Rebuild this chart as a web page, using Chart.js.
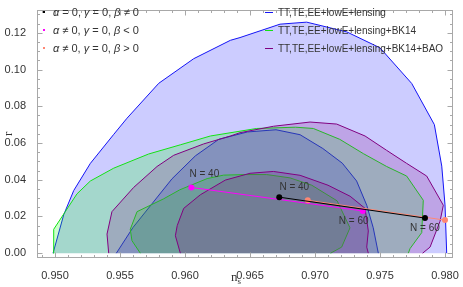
<!DOCTYPE html>
<html><head><meta charset="utf-8">
<script src="https://cdn.jsdelivr.net/npm/chart.js@4/dist/chart.umd.min.js"></script>
<style>html,body{margin:0;padding:0;background:#fff}canvas{display:block}</style>
</head><body><canvas id="c" width="463" height="287"></canvas>
<script>
// ---- axis ticks ----
const xTicks = [0.950, 0.955, 0.960, 0.965, 0.970, 0.975, 0.980];
const xTickLabels = ['0.950', '0.955', '0.960', '0.965', '0.970', '0.975', '0.980'];
const yTicks = [0.00, 0.02, 0.04, 0.06, 0.08, 0.10, 0.12];
const yTickLabels = ['0.00', '0.02', '0.04', '0.06', '0.08', '0.10', '0.12'];

// ---- contour data: [n_s, r] ----
const planck95 = [[0.94985,0],[0.95067,0.0209],[0.95144,0.0341],[0.95272,0.0489],[0.95452,0.0647],[0.95554,0.0735],[0.95798,0.0925],[0.96067,0.1059],[0.96349,0.1159],[0.96423,0.1174],[0.96731,0.1247],[0.96936,0.1258],[0.97244,0.1205],[0.97500,0.1118],[0.97744,0.0924],[0.97918,0.0700],[0.97975,0.0474],[0.98000,0.0263],[0.98013,0]];
const planck68 = [[0.95472,0],[0.95600,0.0140],[0.95900,0.0405],[0.96080,0.0530],[0.96260,0.0620],[0.96480,0.0660],[0.96700,0.0672],[0.96885,0.0645],[0.97060,0.0570],[0.97210,0.0490],[0.97320,0.0393],[0.97398,0.0261],[0.97448,0.0138],[0.97487,0]];
const bk95 = [[0.94985,0],[0.94990,0.0130],[0.95079,0.0226],[0.95169,0.0323],[0.95272,0.0393],[0.95452,0.0463],[0.95720,0.0540],[0.95964,0.0590],[0.96195,0.0638],[0.96551,0.0679],[0.96850,0.0686],[0.96987,0.0679],[0.97190,0.0620],[0.97372,0.0542],[0.97551,0.0472],[0.97705,0.0420],[0.97833,0.0288],[0.97821,0.0112],[0.97731,0.0025],[0.97718,0]];
const bk68 = [[0.95656,0],[0.95592,0.0068],[0.95579,0.0130],[0.95631,0.0226],[0.95836,0.0296],[0.95960,0.0345],[0.96170,0.0406],[0.96297,0.0425],[0.96470,0.0428],[0.96628,0.0428],[0.96808,0.0410],[0.96975,0.0370],[0.97170,0.0285],[0.97269,0.0138],[0.97205,0.0033],[0.97120,0]];
const bao95 = [[0.95413,0],[0.95400,0.0104],[0.95438,0.0226],[0.95605,0.0358],[0.95785,0.0472],[0.95913,0.0533],[0.96144,0.0595],[0.96349,0.0638],[0.96423,0.0656],[0.96680,0.0691],[0.96962,0.0714],[0.97167,0.0703],[0.97385,0.0638],[0.97551,0.0560],[0.97705,0.0489],[0.97859,0.0420],[0.97987,0.0261],[0.97962,0.0174],[0.97885,0.0033],[0.97828,0]];
const bao68 = [[0.95964,0],[0.95926,0.0095],[0.95940,0.0150],[0.95990,0.0244],[0.96118,0.0318],[0.96310,0.0398],[0.96500,0.0435],[0.96680,0.0445],[0.96885,0.0424],[0.97100,0.0370],[0.97270,0.0310],[0.97385,0.0244],[0.97410,0.0121],[0.97398,0.0033],[0.97410,0]];

// ---- model predictions (N = 40, N = 60) ----
const modelN = ['N = 40', 'N = 60'];
const betaFree = [[0.96725,0.0305],[0.97846,0.0191]];      // alpha=0, gamma=0, beta!=0
const betaNeg  = [[0.96049,0.0358],[0.97367,0.0230]];      // alpha!=0, beta<0
const betaPos  = [[0.96944,0.0288],[0.98000,0.0180]];      // alpha!=0, beta>0

const contourNames = ['TT,TE,EE+lowE+lensing', 'TT,TE,EE+lowE+lensing+BK14', 'TT,TE,EE+lowE+lensing+BK14+BAO'];
const modelNames = ['α = 0, γ = 0, β ≠ 0', 'α ≠ 0, γ = 0, β < 0', 'α ≠ 0, γ = 0, β > 0'];

const C_BLUE = 'rgb(20,20,245)', C_GREEN = 'rgb(20,225,20)', C_PURPLE = 'rgb(128,0,128)';
const F_BLUE = 'rgba(0,0,255,0.2)', F_GREEN = 'rgba(0,255,0,0.2)', F_PURPLE = 'rgba(128,0,128,0.2)';
const C_BLACK = '#000', C_MAG = 'rgb(255,0,255)', C_SALMON = 'rgb(255,135,115)';

const toXY = a => a.map(p => ({x: p[0], y: p[1]}));
function contour(data, line, fill, order) {
  return {data: toXY(data), showLine: true, fill: 'shape', backgroundColor: fill, borderColor: line,
    borderWidth: 1, pointRadius: 0, tension: 0, order};
}
function model(data, color, order) {
  return {data: toXY(data), showLine: true, fill: false, borderColor: color, backgroundColor: color,
    borderWidth: 1, pointRadius: 3, pointBorderWidth: 0, pointBackgroundColor: color, tension: 0, order};
}

const datasets = [
  contour(planck95, C_BLUE, F_BLUE, 20),
  contour(planck68, C_BLUE, F_BLUE, 19),
  contour(bk95, C_GREEN, F_GREEN, 18),
  contour(bk68, C_GREEN, F_GREEN, 17),
  contour(bao95, C_PURPLE, F_PURPLE, 16),
  contour(bao68, C_PURPLE, F_PURPLE, 15),
  model(betaNeg, C_MAG, 3),
  model(betaPos, C_SALMON, 2),
  model(betaFree, C_BLACK, 1),
];

const FRAME = '#a8a8a8';
const TXT = '#333';
const SANS = '"Liberation Sans", Arial, sans-serif';

const framePlugin = {
  id: 'frame',
  afterDatasetsDraw(chart) {
    const {ctx, chartArea: a, scales: {x, y}} = chart;
    ctx.save();
    // N labels
    ctx.font = '10px ' + SANS; ctx.fillStyle = TXT; ctx.textAlign = 'center'; ctx.textBaseline = 'middle';
    const lab = (pt, txt, dx, dy) => ctx.fillText(txt, x.getPixelForValue(pt[0]) + dx, y.getPixelForValue(pt[1]) + dy);
    lab(betaNeg[0], modelN[0], 13, -13);
    lab(betaFree[0], modelN[0], 15, -10);
    lab(betaNeg[1], modelN[1], -9, 10);
    lab(betaFree[1], modelN[1], 0, 10);
    // frame
    ctx.strokeStyle = FRAME; ctx.lineWidth = 1;
    const L = Math.round(a.left) + 0.5, R = Math.round(a.right) - 0.5, T = Math.round(a.top) + 0.5, B = Math.round(a.bottom) - 0.5;
    ctx.strokeRect(L, T, R - L, B - T);
    const xMinor = [], yMinor = [];
    for (let k = 949; k <= 980; k++) xMinor.push(k / 1000);
    for (let k = 0; k <= 26; k++) yMinor.push(k * 0.005);
    ctx.beginPath();
    const xt = (v, len) => { const px = Math.round(x.getPixelForValue(v)) + 0.5; ctx.moveTo(px, B); ctx.lineTo(px, B - len); ctx.moveTo(px, T); ctx.lineTo(px, T + len); };
    const yt = (v, len) => { const py = Math.round(y.getPixelForValue(v)) + 0.5; ctx.moveTo(L, py); ctx.lineTo(L + len, py); ctx.moveTo(R, py); ctx.lineTo(R - len, py); };
    xMinor.forEach(v => xt(v, 2.5)); xTicks.forEach(v => xt(v, 5));
    yMinor.forEach(v => yt(v, 2.5)); yTicks.forEach(v => yt(v, 5));
    ctx.stroke();
    // axis titles
    ctx.fillStyle = TXT; ctx.textBaseline = 'alphabetic'; ctx.textAlign = 'left';
    const cx = (a.left + a.right) / 2 - 14;
    ctx.font = '13px "Liberation Serif", serif'; ctx.fillText('n', cx, 281);
    const nw = ctx.measureText('n').width;
    ctx.font = '9px "Liberation Serif", serif'; ctx.fillText('s', cx + nw, 284);
    ctx.save(); ctx.translate(12, (a.top + a.bottom) / 2); ctx.rotate(-Math.PI / 2);
    ctx.font = '13px "Liberation Serif", serif'; ctx.textAlign = 'center'; ctx.fillText('r', 0, 0);
    ctx.restore();
    // legends
    const rowY = [12, 30, 48];
    const mColors = [C_BLACK, C_MAG, C_SALMON];
    modelNames.forEach((txt, i) => {
      ctx.fillStyle = mColors[i];
      ctx.fillRect(a.left + 6, rowY[i] - 1, 2, 2);
      let px = a.left + 16;
      ctx.fillStyle = TXT; ctx.textBaseline = 'middle';
      for (const ch of txt) {
        ctx.font = (/[α-ω]/.test(ch) ? 'italic ' : '') + '11px ' + SANS;
        ctx.fillText(ch, px, rowY[i] + 1);
        px += ctx.measureText(ch).width;
      }
    });
    const cColors = [C_BLUE, C_GREEN, C_PURPLE];
    contourNames.forEach((txt, i) => {
      ctx.strokeStyle = cColors[i]; ctx.lineWidth = 1;
      ctx.beginPath(); ctx.moveTo(265, rowY[i] + 0.5); ctx.lineTo(273, rowY[i] + 0.5); ctx.stroke();
      ctx.fillStyle = TXT; ctx.font = '10px ' + SANS; ctx.textBaseline = 'middle';
      ctx.fillText(txt, 278, rowY[i] + 1);
    });
    ctx.restore();
  }
};

new Chart(document.getElementById('c'), {
  type: 'scatter',
  data: {datasets},
  options: {
    responsive: false, animation: false, devicePixelRatio: 1,
    layout: {padding: {top: 1, right: 10, left: 0, bottom: 0}},
    plugins: {legend: {display: false}, tooltip: {enabled: false}, filler: {drawTime: 'beforeDatasetDraw'}},
    scales: {
      x: {type: 'linear', min: 0.948615, max: 0.980615,
        afterBuildTicks: s => { s.ticks = xTicks.map(v => ({value: v})); },
        afterFit: s => { s.height = 29; },
        grid: {display: false}, border: {display: false},
        ticks: {callback: (v) => xTickLabels[xTicks.findIndex(t => Math.abs(t - v) < 1e-9)], font: {family: SANS, size: 11}, color: TXT, padding: 3, maxRotation: 0, autoSkip: false}},
      y: {type: 'linear', min: -0.00263, max: 0.13263,
        afterBuildTicks: s => { s.ticks = yTicks.map(v => ({value: v})); },
        afterFit: s => { s.width = 37; },
        grid: {display: false}, border: {display: false},
        ticks: {callback: (v) => yTickLabels[yTicks.findIndex(t => Math.abs(t - v) < 1e-9)], font: {family: SANS, size: 11}, color: TXT, padding: 3, autoSkip: false}}
    }
  },
  plugins: [framePlugin]
});
</script></body></html>
